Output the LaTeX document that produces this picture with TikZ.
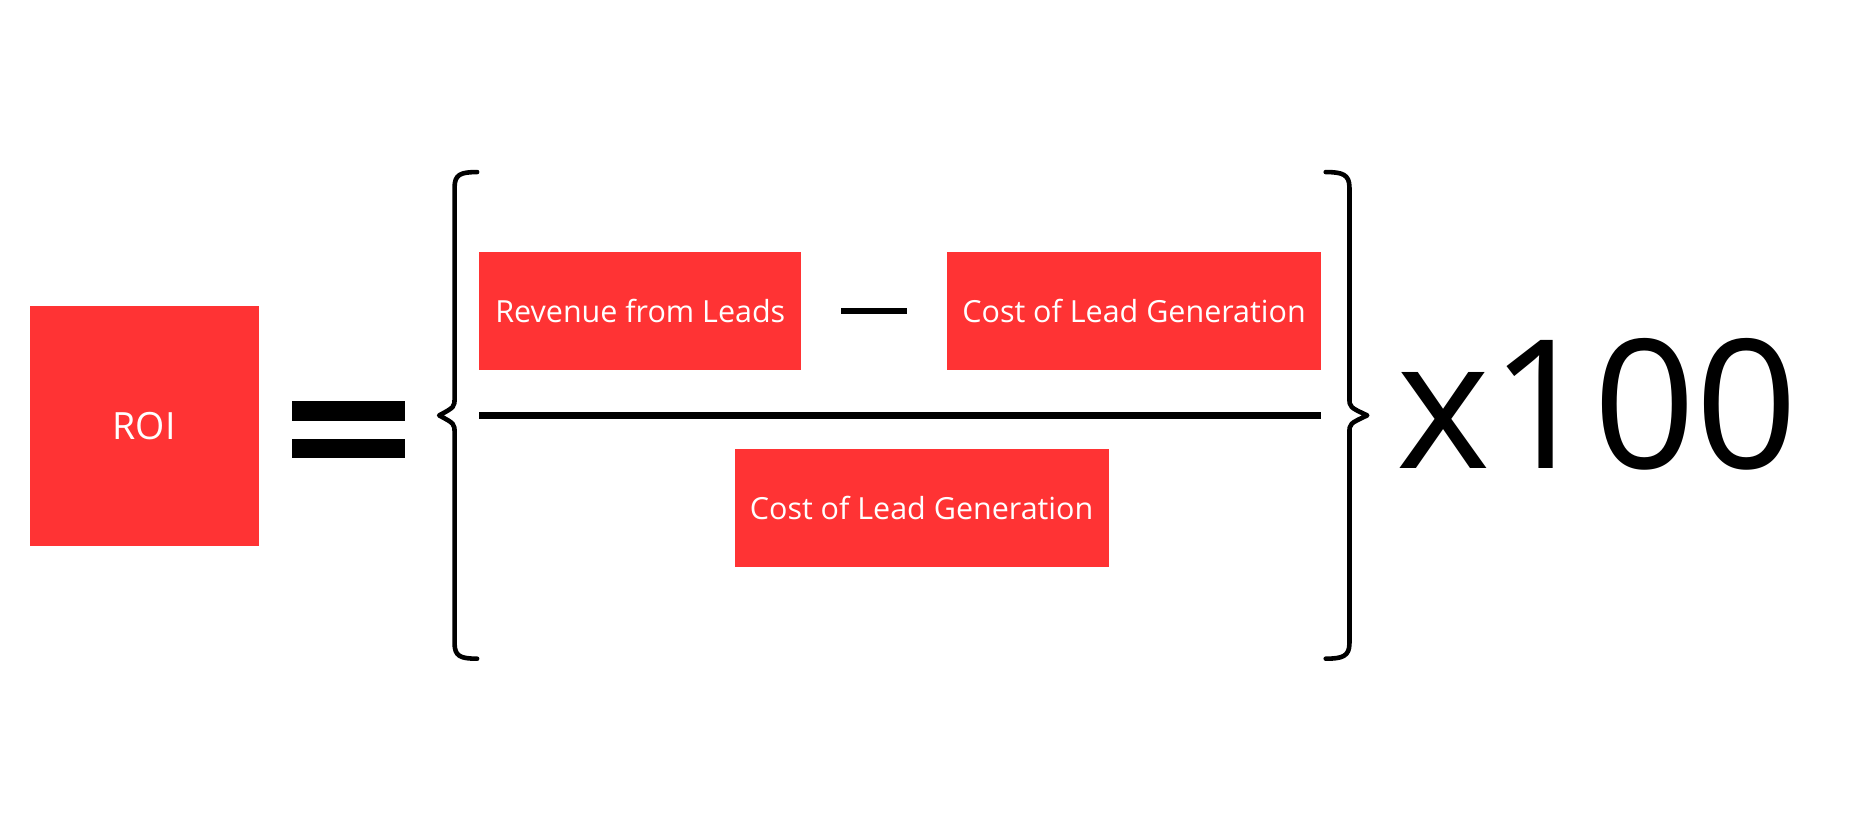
\documentclass[tikz,border=0pt]{standalone}
\usepackage{fontspec}
\setmainfont{Open Sans}
\definecolor{boxred}{HTML}{FF3334}
\begin{document}
\begin{tikzpicture}[x=0.01cm,y=-0.01cm,
  redbox/.style={fill=boxred,draw=none,text=white,font=\fontsize{7.3}{9}\selectfont},
  brace/.style={line width=1.1pt,line cap=round,line join=round}]
\useasboundingbox[fill=white] (0,0) rectangle (1568,686);
\node[fill=boxred,minimum width=193*0.01cm,minimum height=202*0.01cm,inner sep=0,text=white,font=\fontsize{9}{11}\selectfont] (roi) at (121.5,359) {ROI};
\fill (246,338) rectangle (341,355);
\fill (246,370) rectangle (341,386);
\node[redbox,minimum width=271*0.01cm,minimum height=100*0.01cm,inner sep=0] (rev) at (539.5,262) {Revenue from Leads};
\node[redbox,minimum width=315*0.01cm,minimum height=100*0.01cm,inner sep=0] (cost1) at (955.5,262) {Cost of Lead Generation};
\node[redbox,minimum width=315*0.01cm,minimum height=100*0.01cm,inner sep=0] (cost2) at (776.5,428) {Cost of Lead Generation};
\draw[line width=1.4pt] (709,262) -- (764,262);
\draw[line width=1.6pt] (404,350) -- (1113,350);
\draw[brace] (402,145) .. controls (388,145) and (383,147) .. (383,158) -- (383,335) .. controls (383,343) .. (370,350) .. controls (383,357) .. (383,365) -- (383,542) .. controls (383,553) and (388,555) .. (402,555);
\draw[brace] (1117,145) .. controls (1131,145) and (1137,147) .. (1137,158) -- (1137,335) .. controls (1137,343) .. (1152,350) .. controls (1137,357) .. (1137,365) -- (1137,542) .. controls (1137,553) and (1131,555) .. (1117,555);
\node[anchor=base west,inner sep=0,font=\fontsize{43}{50}\selectfont] (x100) at (1176,395) {x100};
\end{tikzpicture}
\end{document}
